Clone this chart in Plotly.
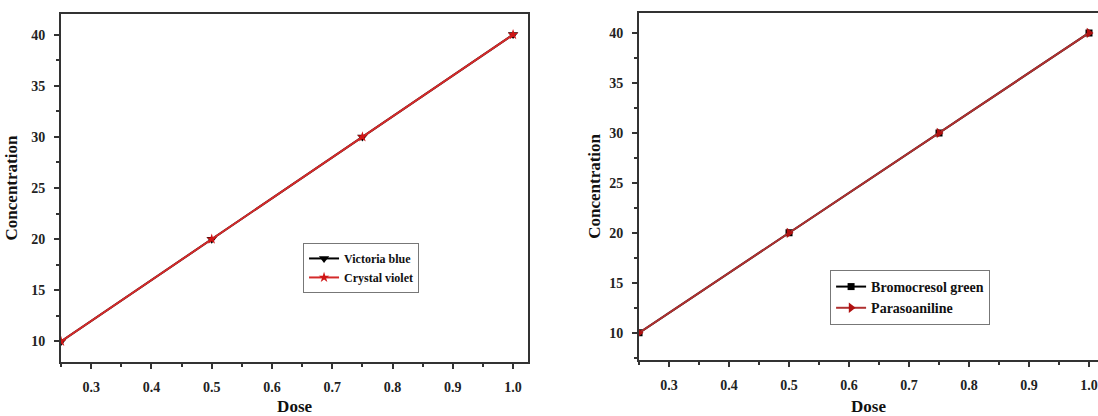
import plotly.graph_objects as go

dose = [0.25, 0.5, 0.75, 1.0]
victoria_blue = [10, 20, 30, 40]
crystal_violet = [10, 20, 30, 40]
bromocresol_green = [10, 20, 30, 40]
parasoaniline = [10, 20, 30, 40]

FONT = "Liberation Serif"
AX = "#333333"

fig = go.Figure()

fig.add_trace(go.Scatter(x=dose, y=victoria_blue, name="Victoria blue", mode="lines+markers",
                         line=dict(color="black", width=2),
                         marker=dict(symbol="triangle-down", size=9, color="black"),
                         xaxis="x", yaxis="y", legend="legend"))
fig.add_trace(go.Scatter(x=dose, y=crystal_violet, name="Crystal violet", mode="lines+markers",
                         line=dict(color="#d42a2a", width=2),
                         marker=dict(symbol="star", size=8, color="#d01515"),
                         xaxis="x", yaxis="y", legend="legend"))
fig.add_trace(go.Scatter(x=dose, y=bromocresol_green, name="Bromocresol green", mode="lines+markers",
                         line=dict(color="black", width=2),
                         marker=dict(symbol="square", size=7, color="black"),
                         xaxis="x2", yaxis="y2", legend="legend2"))
fig.add_trace(go.Scatter(x=dose, y=parasoaniline, name="Parasoaniline", mode="lines+markers",
                         line=dict(color="#b03030", width=2),
                         marker=dict(symbol="triangle-right", size=9, color="#b01010"),
                         xaxis="x2", yaxis="y2", legend="legend2"))

tickfont = dict(family=FONT, size=14, color="#222", weight="bold")
titlefont = dict(family=FONT, size=17, color="#111", weight="bold")

def xax(domain, rng, anchor, mirror):
    return dict(domain=domain, range=rng, anchor=anchor, showgrid=False, zeroline=False,
                showline=True, linecolor=AX, linewidth=2, mirror=mirror,
                ticks="outside", ticklen=5, tickwidth=2, tickcolor=AX,
                tick0=0.3, dtick=0.1, tickformat=".1f", tickfont=tickfont, ticklabelstandoff=6,
                minor=dict(ticks="outside", ticklen=3, tickwidth=2, tickcolor=AX, tick0=0.25, dtick=0.05),
                title=dict(text="Dose", font=titlefont, standoff=12), automargin=False)

def yax(domain, rng, anchor, mirror, standoff):
    return dict(domain=domain, range=rng, anchor=anchor, showgrid=False, zeroline=False,
                showline=True, linecolor=AX, linewidth=2, mirror=mirror,
                ticks="outside", ticklen=5, tickwidth=2, tickcolor=AX,
                tick0=0, dtick=5, tickfont=tickfont, ticklabelstandoff=6,
                minor=dict(ticks="outside", ticklen=3, tickwidth=2, tickcolor=AX, tick0=0, dtick=2.5),
                title=dict(text="Concentration", font=titlefont, standoff=standoff), automargin=False)

fig.update_layout(
    width=1098, height=416, margin=dict(l=0, r=0, t=0, b=0),
    paper_bgcolor="white", plot_bgcolor="white",
    xaxis=xax([0.0556, 0.481], [0.25, 1.025], "y", True),
    yaxis=yax([0.13, 0.966], [8, 42], "x", True, 9),
    yaxis3=dict(domain=[0.13, 0.966], range=[8, 42], overlaying="y", side="right", anchor="x",
                showgrid=False, zeroline=False, showline=False, showticklabels=False,
                ticks="inside", ticklen=5, tickwidth=2, tickcolor=AX, tick0=0, dtick=5,
                minor=dict(ticks="inside", ticklen=3, tickwidth=2, tickcolor=AX, tick0=0, dtick=2.5)),
    xaxis2=xax([0.582, 1.0], [0.25, 1.015], "y2", True),
    yaxis2=yax([0.135, 0.969], [7.3, 42], "x2", False, 4),
    legend=dict(x=0.276, y=0.416, xanchor="left", yanchor="top",
                font=dict(family=FONT, size=12, color="#111", weight="bold"),
                bordercolor="#777", borderwidth=1, bgcolor="white", tracegroupgap=0),
    legend2=dict(x=0.756, y=0.351, xanchor="left", yanchor="top",
                 font=dict(family=FONT, size=14, color="#111", weight="bold"),
                 bordercolor="#777", borderwidth=1, bgcolor="white", tracegroupgap=0),
    showlegend=True,
)

fig.write_html("out.html", config={"displayModeBar": False},
               post_script="document.body.style.margin='0';document.body.style.overflow='hidden';")
